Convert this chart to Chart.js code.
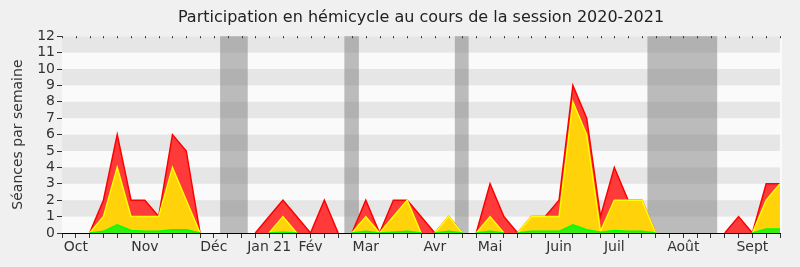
<!DOCTYPE html>
<html>
<head>
<meta charset="utf-8">
<script src="https://cdn.jsdelivr.net/npm/chart.js@4"></script>
<style>
  html, body { margin: 0; padding: 0; background: #f0f0f0; }
  #wrap { width: 800px; height: 267px; }
</style>
</head>
<body>
<div id="wrap"><canvas id="chart"></canvas></div>
<script>
// one point per week, index 0 = first week of the session
const weeks = Array.from({ length: 53 }, (_, i) => i);

const monthTicks = [1, 6, 11, 15, 18, 22, 27, 31, 36, 40, 45, 50];
const monthLabels = ["Oct", "Nov", "Déc", "Jan 21", "Fév", "Mar", "Avr", "Mai", "Juin", "Juil", "Août", "Sept"];

// séances (red), présences (yellow), interventions (green)
const seances = [0, 0, 0, 2, 6, 2, 2, 1, 6, 5, 0, 0, 0, 0, 0, 1, 2, 1, 0, 2, 0, 0, 2, 0, 2, 2, 1, 0, 1, 0, 0, 3, 1, 0, 1, 1, 2, 9, 7, 1, 4, 2, 2, 0, 0, 0, 0, 0, 0, 1, 0, 3, 3];
const presences = [0, 0, 0, 1, 4, 1, 1, 1, 4, 2, 0, 0, 0, 0, 0, 0, 1, 0, 0, 0, 0, 0, 1, 0, 1, 2, 0, 0, 1, 0, 0, 1, 0, 0, 1, 1, 1, 8, 6, 0.1, 2, 2, 2, 0, 0, 0, 0, 0, 0, 0, 0, 2, 3];
const interventions = [0, 0, 0, 0.1, 0.5, 0.15, 0.1, 0.1, 0.2, 0.2, 0, 0, 0, 0, 0, 0, 0.05, 0, 0, 0, 0, 0, 0.1, 0, 0.05, 0.1, 0, 0, 0.1, 0, 0, 0.1, 0, 0, 0.1, 0.1, 0.1, 0.5, 0.2, 0.05, 0.15, 0.1, 0.1, 0, 0, 0, 0, 0, 0, 0, 0, 0.25, 0.25];

// vacances parlementaires, in week units
const vacStart = [11.45, 20.45, 28.45, 42.4];
const vacEnd = [13.45, 21.5, 29.45, 47.45];

const backdrop = {
  id: "backdrop",
  beforeDatasetsDraw(chart) {
    const { ctx, chartArea: a, scales: { x, y } } = chart;
    ctx.save();
    ctx.fillStyle = "#fafafa";
    ctx.fillRect(a.left, a.top, a.right - a.left + 2, a.bottom - a.top);
    ctx.fillStyle = "#e6e6e6";
    for (let k = 1; k < 12; k += 2) {
      const top = y.getPixelForValue(k + 1), bot = y.getPixelForValue(k);
      ctx.fillRect(a.left, top, a.right - a.left, bot - top);
    }
    ctx.fillStyle = "rgba(120,120,120,0.48)";
    for (let i = 0; i < vacStart.length; i++) {
      const l = x.getPixelForValue(vacStart[i]), r = x.getPixelForValue(vacEnd[i]);
      ctx.fillRect(l, a.top, r - l, a.bottom - a.top);
    }
    // small week ticks along the top edge
    ctx.strokeStyle = "#333";
    ctx.lineWidth = 1;
    ctx.beginPath();
    weeks.forEach(w => {
      const px = Math.round(x.getPixelForValue(w)) + 0.5;
      ctx.moveTo(px, a.top);
      ctx.lineTo(px, a.top + 2);
    });
    ctx.stroke();
    ctx.restore();
  }
};

const toPts = arr => arr.map((v, i) => ({ x: weeks[i], y: v }));
// hide the outline where a series lies flat on zero
const flatZero = c => (c.p0.parsed.y === 0 && c.p1.parsed.y === 0 ? "rgba(0,0,0,0)" : undefined);

new Chart(document.getElementById("chart"), {
  type: "line",
  data: {
    datasets: [
      { data: toPts(interventions), borderColor: "#00ff00", backgroundColor: "#33ee11", fill: "origin", borderWidth: 1.5, segment: { borderColor: flatZero } },
      { data: toPts(presences), borderColor: "#ffff00", backgroundColor: "#ffd20a", fill: "origin", borderWidth: 1.5, segment: { borderColor: flatZero } },
      { data: toPts(seances), borderColor: "#ff0000", backgroundColor: "#ff3a3a", fill: "origin", borderWidth: 1.5, segment: { borderColor: flatZero } }
    ]
  },
  options: {
    responsive: true,
    maintainAspectRatio: false,
    animation: false,
    layout: { padding: { right: 20, left: 0, top: 0, bottom: 0 } },
    elements: { point: { radius: 0 }, line: { tension: 0 } },
    plugins: {
      legend: { display: false },
      tooltip: { enabled: false },
      title: {
        display: true,
        text: "Participation en hémicycle au cours de la session 2020-2021",
        fullSize: false,
        color: "#222",
        font: { family: "DejaVu Sans", size: 16, weight: "normal" },
        padding: { top: 8, bottom: 9 }
      }
    },
    scales: {
      x: {
        type: "linear",
        min: 0,
        max: 52,
        z: 1,
        afterFit: s => { s.height = 34; },
        afterBuildTicks: s => { s.ticks = weeks.map(w => ({ value: w })); },
        grid: { drawOnChartArea: false, tickLength: 5, color: "#333" },
        border: { color: "#000", width: 1 },
        ticks: {
          autoSkip: false,
          maxRotation: 0,
          padding: 1,
          color: "#333",
          font: { family: "DejaVu Sans", size: 14 },
          callback: v => {
            const k = monthTicks.indexOf(v);
            return k >= 0 ? monthLabels[k] : "";
          }
        }
      },
      y: {
        min: 0,
        max: 12,
        z: 1,
        afterFit: s => { s.width = 62; },
        grid: { drawOnChartArea: false, tickLength: 5, color: "#333" },
        border: { color: "#000", width: 1 },
        ticks: {
          stepSize: 1,
          autoSkip: false,
          padding: 2,
          color: "#333",
          font: { family: "DejaVu Sans", size: 14, lineHeight: 1 }
        },
        title: {
          display: true,
          text: "Séances par semaine",
          color: "#333",
          font: { family: "DejaVu Sans", size: 14 },
          padding: { top: 10, bottom: 0 }
        }
      }
    }
  },
  plugins: [backdrop]
});
</script>
</body>
</html>
